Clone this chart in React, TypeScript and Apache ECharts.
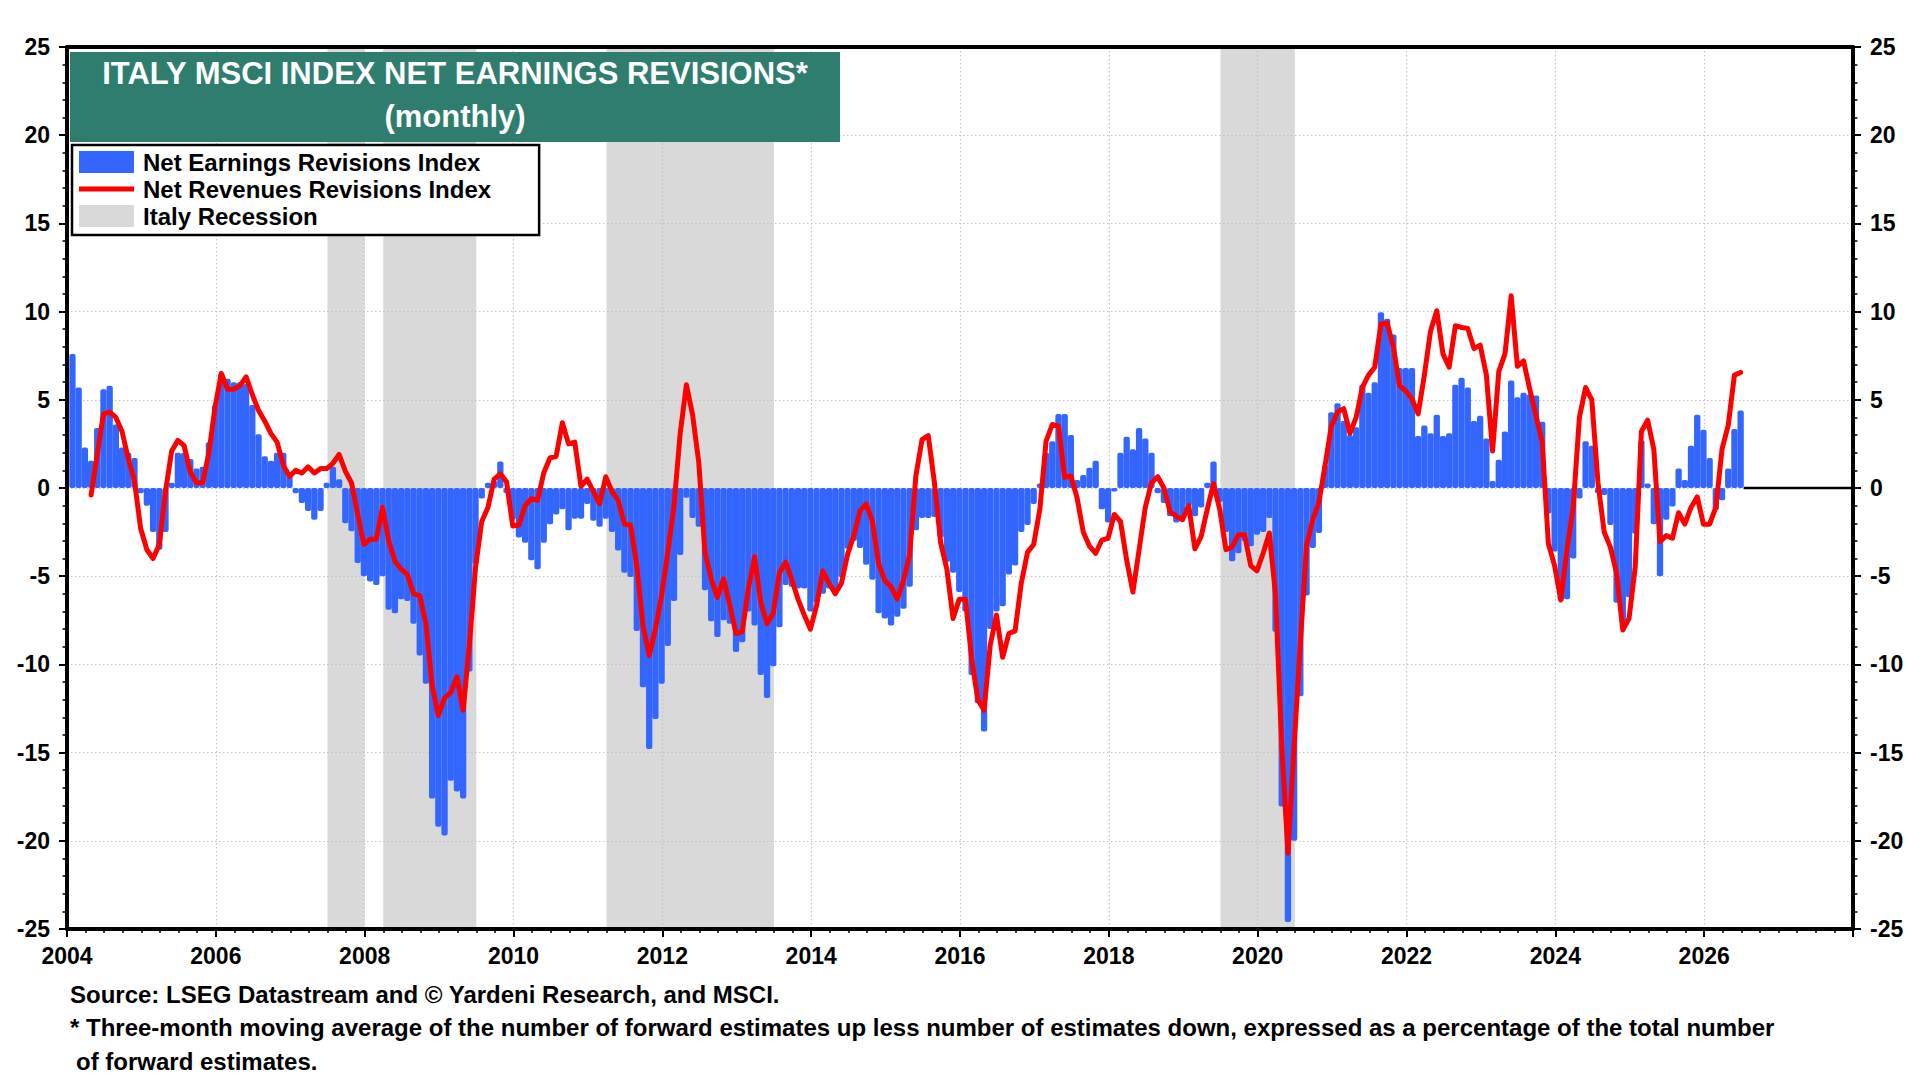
import React, { useEffect, useRef } from "react";
import * as echarts from "echarts";

const FONT = 'Arial, "Liberation Sans", Helvetica, sans-serif';

// Monthly data, first value = January 2004 (plotted near month end)
const START_YEAR = 2004;
const MONTH_POS = 0.88; // position inside the month

const earnings: number[] = [
  // 2004
  7.6, 5.7, 2.3, 1.55, 3.4, 5.6, 5.8, 3.6, 2.3, 2.0, 1.7, -0.3,
  // 2005
  -1.0, -2.5, -3.5, -2.5, 0.3, 2.0, 2.0, 1.65, 1.1, 1.2, 2.6, 4.7,
  // 2006
  6.5, 6.2, 6.0, 6.0, 5.9, 4.7, 3.05, 1.8, 1.55, 2.0, 2.0, 0.7,
  // 2007
  -0.3, -0.85, -1.3, -1.8, -1.3, 0.3, 1.2, 0.5, -2.0, -2.45, -4.25, -5.0,
  // 2008
  -5.3, -5.5, -5.0, -6.9, -7.1, -6.3, -6.4, -7.7, -9.5, -11.1, -17.6, -19.2,
  // 2009
  -19.7, -16.6, -17.2, -17.6, -10.4, -4.3, -0.6, 0.3, 0.4, 1.5, -0.3, -1.8,
  // 2010
  -2.8, -3.1, -4.1, -4.6, -3.1, -2.05, -1.5, -1.2, -2.4, -1.75, -1.75, -0.9,
  // 2011
  -1.85, -2.2, -1.75, -2.5, -3.55, -4.8, -5.05, -8.1, -11.3, -14.8, -13.1, -11.1,
  // 2012
  -8.95, -6.4, -3.8, -0.55, -1.7, -2.2, -5.8, -7.55, -8.45, -7.5, -7.7, -9.3,
  // 2013
  -8.75, -7.0, -7.8, -10.6, -11.9, -10.1, -7.9, -5.5, -5.6, -5.7, -5.7, -7.0,
  // 2014
  -6.5, -6.0, -5.7, -5.9, -5.05, -3.45, -3.0, -3.4, -4.35, -5.2, -7.1, -7.4,
  // 2015
  -7.8, -7.3, -6.85, -5.6, -2.4, -1.7, -1.7, -1.65, -2.8, -4.2, -4.8, -5.9,
  // 2016
  -7.0, -10.6, -12.2, -13.8, -8.0, -7.0, -6.7, -4.9, -4.4, -2.5, -2.1, -0.9,
  // 2017
  0.25, 2.0, 2.65, 4.2, 4.2, 3.0, 0.45, 0.73, 1.15, 1.55, -1.2, -1.95,
  // 2018
  -0.2, 2.0, 2.9, 2.2, 3.4, 2.8, 2.0, -0.3, -0.85, -1.6, -1.95, -1.7,
  // 2019
  -1.0, -1.6, -1.1, 0.3, 1.5, -0.8, -2.5, -4.15, -3.7, -3.0, -3.3, -2.65,
  // 2020
  -2.5, -1.7, -8.15, -18.05, -24.6, -20.0, -11.8, -6.1, -3.4, -2.55, 1.3, 4.3,
  // 2021
  4.8, 3.8, 3.0, 3.45, 5.85, 5.4, 6.0, 9.96, 9.6, 8.7, 6.8, 6.8,
  // 2022
  6.8, 2.95, 3.55, 3.1, 4.15, 2.95, 3.1, 5.85, 6.25, 5.7, 3.8, 4.1,
  // 2023
  2.8, 0.4, 1.6, 3.2, 6.1, 5.15, 5.4, 5.3, 5.25, 3.75, -1.45, -3.6,
  // 2024
  -6.4, -6.3, -4.0, -0.6, 2.65, 2.4, -0.3, -0.4, -2.1, -6.5, -7.7, -6.2,
  // 2025
  -2.6, 2.7, 0.25, -2.05, -5.0, -1.8, -1.05, 1.1, 0.45, 2.4, 4.15, 3.3,
  // 2026
  1.7, -1.25, -0.7, 1.1, 3.35, 4.4,
];

const revenues: (number | null)[] = [
  // 2004
  null, null, null, -0.4, 1.9, 4.2, 4.3, 4.0, 3.2, 1.65, 0.4, -2.3,
  // 2005
  -3.5, -4.0, -3.2, -0.2, 2.1, 2.7, 2.4, 0.9, 0.3, 0.3, 2.0, 4.6,
  // 2006
  6.5, 5.6, 5.6, 5.8, 6.3, 5.3, 4.4, 3.8, 3.1, 2.6, 1.3, 0.65,
  // 2007
  1.0, 0.85, 1.2, 0.85, 1.1, 1.1, 1.4, 1.9, 0.95, 0.3, -1.5, -3.2,
  // 2008
  -2.9, -2.9, -1.1, -3.0, -4.15, -4.6, -4.9, -6.0, -6.1, -7.7, -11.2, -12.9,
  // 2009
  -11.9, -11.6, -10.7, -12.6, -8.9, -4.5, -1.9, -1.1, 0.5, 0.8, 0.35, -2.15,
  // 2010
  -2.1, -1.0, -0.6, -0.7, 0.86, 1.7, 1.8, 3.7, 2.5, 2.6, 0.1, 0.5,
  // 2011
  -0.2, -0.9, 0.64, -0.2, -0.7, -2.05, -2.1, -4.4, -7.8, -9.5, -8.0, -6.1,
  // 2012
  -3.65, -1.0, 3.1, 5.85, 4.15, 1.43, -3.65, -5.15, -6.2, -5.15, -6.65, -8.25,
  // 2013
  -8.15, -5.7, -3.9, -6.5, -7.7, -7.1, -4.8, -4.2, -5.2, -6.3, -7.2, -8.0,
  // 2014
  -6.65, -4.7, -5.4, -6.0, -5.4, -3.75, -2.7, -1.3, -0.9, -1.9, -4.3, -5.25,
  // 2015
  -5.6, -6.3, -5.25, -3.8, 0.68, 2.74, 2.97, 0.3, -3.1, -4.6, -7.4, -6.3,
  // 2016
  -6.3, -9.7, -12.0, -12.6, -8.9, -7.2, -9.6, -8.25, -8.1, -5.4, -3.65, -3.2,
  // 2017
  -1.2, 2.65, 3.6, 3.5, 0.6, 0.68, -0.55, -2.5, -3.3, -3.7, -2.95, -2.85,
  // 2018
  -1.5, -1.9, -4.1, -5.9, -3.5, -1.1, 0.3, 0.64, 0.0, -1.35, -1.6, -1.8,
  // 2019
  -1.0, -3.45, -2.75, -1.2, 0.25, -1.2, -3.5, -3.35, -2.65, -2.65, -4.4, -4.7,
  // 2020
  -3.7, -2.55, -6.05, -14.6, -20.7, -14.6, -8.8, -3.25, -1.8, -0.8, 1.3, 3.5,
  // 2021
  4.3, 4.5, 3.1, 4.0, 5.7, 6.4, 6.85, 9.3, 9.35, 8.0, 5.8, 5.5,
  // 2022
  5.05, 4.2, 6.4, 8.9, 10.05, 7.6, 6.85, 9.2, 9.1, 9.05, 7.9, 8.1,
  // 2023
  6.4, 2.1, 6.6, 7.6, 10.9, 6.9, 7.2, 5.6, 4.1, 2.6, -3.15, -4.4,
  // 2024
  -6.35, -3.5, -1.1, 4.0, 5.7, 5.0, 0.3, -2.5, -3.35, -4.85, -8.05, -7.4,
  // 2025
  -4.5, 3.2, 3.85, 2.2, -3.05, -2.7, -2.85, -1.4, -2.05, -1.1, -0.5, -2.05,
  // 2026
  -2.05, -1.1, 2.2, 3.55, 6.4, 6.55,
];

// Recession periods [start, end] as year-month
const recessions: [string, string][] = [
  ["2007-07", "2008-01"],
  ["2008-04", "2009-07"],
  ["2011-04", "2013-07"],
  ["2019-07", "2020-07"],
];

const yTicks = { min: -25, max: 25, interval: 5 };
const xTicks = { min: 2004, max: 2028, interval: 2 };

const TITLE = "ITALY MSCI INDEX NET EARNINGS REVISIONS*";
const SUBTITLE = "(monthly)";
const NOTES = [
  "Source: LSEG Datastream and \u00a9 Yardeni Research, and MSCI.",
  "* Three-month moving average of the number of forward estimates up less number of estimates down, expressed as a percentage of the total number",
  "of forward estimates.",
];

const S_EARN = "Net Earnings Revisions Index";
const S_REV = "Net Revenues Revisions Index";
const S_REC = "Italy Recession";

const monthX = (i: number) => START_YEAR + (i + MONTH_POS) / 12;
const ymToX = (s: string) => {
  const [y, m] = s.split("-").map(Number);
  return y + (m - 1) / 12;
};

export default function App() {
  const ref = useRef<HTMLDivElement>(null);

  useEffect(() => {
    if (!ref.current) return;
    const chart = echarts.init(ref.current, undefined, { renderer: "svg" });

    const earnData = earnings.map((v, i) => [monthX(i), v]);
    const revData = revenues
      .map((v, i) => (v === null ? null : [monthX(i), v]))
      .filter((d) => d !== null);
    const recData = recessions.map(([a, b]) => [ymToX(a), ymToX(b), yTicks.min, yTicks.max]);
    const lastX = monthX(earnings.length - 1) + 0.5 / 12;

    const axisLabelStyle = {
      fontSize: 23,
      fontWeight: "bold" as const,
      color: "#000",
      fontFamily: FONT,
    };
    const gridLine = { type: [1.5, 2.5], color: "#c4c4c4", width: 1.2 };

    const yAxisBase = (pos: "left" | "right", split: boolean) => ({
      type: "value",
      position: pos,
      min: yTicks.min,
      max: yTicks.max,
      interval: yTicks.interval,
      z: 2,
      axisLine: { show: true, onZero: false, lineStyle: { color: "#000", width: 4 } },
      axisTick: { show: true, length: 8, lineStyle: { color: "#000", width: 2 } },
      minorTick: { show: true, splitNumber: 5, length: 4.5, lineStyle: { color: "#000", width: 1.5 } },
      axisLabel: { ...axisLabelStyle, margin: 17 },
      splitLine: { show: split, lineStyle: gridLine },
    });

    const option: any = {
      animation: false,
      backgroundColor: "#ffffff",
      textStyle: { fontFamily: FONT },
      title: {
        text: TITLE,
        subtext: SUBTITLE,
        left: 455,
        top: 58,
        padding: 0,
        itemGap: 12,
        textAlign: "center",
        z: 10,
        textStyle: { color: "#ffffff", fontSize: 31, fontWeight: "bold", lineHeight: 31, fontFamily: FONT },
        subtextStyle: { color: "#ffffff", fontSize: 31, fontWeight: "bold", lineHeight: 31, fontFamily: FONT },
      },
      legend: {
        orient: "vertical",
        left: 72,
        top: 145,
        padding: [5, 48, 7, 7],
        itemWidth: 55,
        itemHeight: 22,
        itemGap: 3,
        backgroundColor: "#ffffff",
        borderColor: "#000000",
        borderWidth: 2.5,
        selectedMode: false,
        z: 10,
        textStyle: { fontSize: 24, fontWeight: "bold", color: "#000", fontFamily: FONT, padding: [0, 0, 0, 4] },
        data: [
          { name: S_EARN, icon: "rect" },
          { name: S_REV, icon: "path://M0,0H55V5H0Z" },
          { name: S_REC, icon: "rect" },
        ],
      },
      grid: { left: 67, right: 67, top: 47, bottom: 151, containLabel: false },
      xAxis: [
        {
          type: "value",
          position: "bottom",
          min: xTicks.min,
          max: xTicks.max,
          interval: xTicks.interval,
          z: 2,
          axisLine: { show: true, onZero: false, lineStyle: { color: "#000", width: 4 } },
          axisTick: { show: true, length: 8, lineStyle: { color: "#000", width: 2 } },
          minorTick: { show: true, splitNumber: 8, length: 4, lineStyle: { color: "#000", width: 1.5 } },
          axisLabel: {
            ...axisLabelStyle,
            margin: 15,
            showMaxLabel: false,
            formatter: (v: number) => (v >= xTicks.max ? "" : String(v)),
          },
          splitLine: { show: true, lineStyle: gridLine },
        },
        {
          type: "value",
          position: "top",
          min: xTicks.min,
          max: xTicks.max,
          interval: xTicks.interval,
          z: 2,
          axisLine: { show: true, onZero: false, lineStyle: { color: "#000", width: 4 } },
          axisTick: { show: false },
          axisLabel: { show: false },
          splitLine: { show: false },
        },
      ],
      yAxis: [yAxisBase("left", true), yAxisBase("right", false)],
      graphic: [
        {
          type: "rect",
          z: 9,
          shape: { x: 70, y: 52, width: 770, height: 90 },
          style: { fill: "#2e7d6f" },
        },
        ...NOTES.map((t, i) => ({
          type: "text",
          z: 9,
          x: i === 2 ? 76 : 70,
          y: [994, 1027, 1061][i],
          style: {
            text: t,
            fontSize: 24,
            fontWeight: "bold",
            fontFamily: FONT,
            fill: "#000",
            verticalAlign: "middle",
          },
        })),
      ],
      series: [
        {
          name: S_REC,
          type: "custom",
          z: 1,
          silent: true,
          itemStyle: { color: "#d9d9d9" },
          encode: { x: [0, 1], y: [2, 3] },
          data: recData,
          renderItem: (params: any, api: any) => {
            const p0 = api.coord([api.value(0), api.value(3)]);
            const p1 = api.coord([api.value(1), api.value(2)]);
            return {
              type: "rect",
              shape: { x: p0[0], y: p0[1], width: p1[0] - p0[0], height: p1[1] - p0[1] },
              style: { fill: "#d9d9d9" },
            };
          },
        },
        {
          name: S_EARN,
          type: "bar",
          z: 3,
          barWidth: 6.3,
          itemStyle: { color: "#3366ff", borderRadius: 2 },
          data: earnData,
        },
        {
          name: S_REV,
          type: "line",
          z: 4,
          symbol: "none",
          color: "#ff0000",
          itemStyle: { color: "#ff0000" },
          lineStyle: { color: "#ff0000", width: 5, join: "round", cap: "round" },
          data: revData,
        },
        {
          name: "zero",
          type: "line",
          z: 4,
          symbol: "none",
          silent: true,
          lineStyle: { color: "#000000", width: 2.5 },
          data: [
            [lastX, 0],
            [xTicks.max, 0],
          ],
        },
      ],
    };

    chart.setOption(option);
    return () => {
      chart.dispose();
    };
  }, []);

  return (
    <div
      ref={ref}
      style={{ position: "absolute", left: 0, top: 0, width: "1920px", height: "1080px", background: "#fff" }}
    />
  );
}
